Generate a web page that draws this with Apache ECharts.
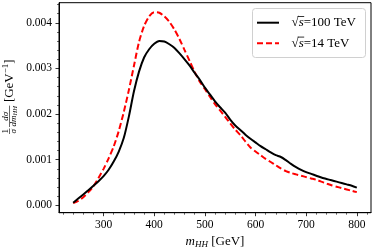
<!DOCTYPE html>
<html><head><meta charset="utf-8">
<script src="https://cdn.jsdelivr.net/npm/echarts@6/dist/echarts.min.js"></script>
<style>html,body{margin:0;padding:0;background:#fff}#c{width:374px;height:249px}</style>
</head><body><div id="c"></div>
<script>
const mHH = [240,250,260,270,280,290,300,310,320,330,340,350,360,370,380,390,400,410,420,430,440,450,460,470,480,490,500,510,520,530,540,550,560,570,580,590,600,610,620,630,640,650,660,670,680,690,700,710,720,730,740,750,760,770,780,790,800];
const s100 = [0.00006,0.00015,0.00024,0.00033,0.00043,0.00053,0.00064,0.00078,0.00096,0.00118,0.00148,0.00195,0.00250,0.00293,0.00324,0.00342,0.00354,0.00360,0.00359,0.00353,0.00345,0.00333,0.00320,0.00306,0.00290,0.00275,0.00258,0.00243,0.00228,0.00215,0.00203,0.00188,0.00175,0.00165,0.00155,0.00146,0.00138,0.00130,0.00123,0.00116,0.00110,0.00106,0.00099,0.00091,0.00084,0.00078,0.00073,0.00069,0.00065,0.00061,0.00058,0.00055,0.00052,0.00049,0.00046,0.00043,0.00039];
const s14 = [0.00005,0.00010,0.00018,0.00029,0.00042,0.00060,0.00080,0.00103,0.00129,0.00163,0.00205,0.00253,0.00306,0.00358,0.00393,0.00414,0.00423,0.00422,0.00414,0.00402,0.00385,0.00364,0.00340,0.00316,0.00292,0.00271,0.00255,0.00238,0.00222,0.00208,0.00194,0.00180,0.00166,0.00154,0.00140,0.00127,0.00118,0.00110,0.00102,0.00095,0.00088,0.00081,0.00075,0.00071,0.00068,0.00065,0.00062,0.00059,0.00056,0.00052,0.00048,0.00044,0.00041,0.00038,0.00035,0.00032,0.00029];
const xTicks = [300,400,500,600,700,800];
const xMinorTicks = [220,240,260,280,320,340,360,380,420,440,460,480,520,540,560,580,620,640,660,680,720,740,760,780,820];
const yTicks = [0,0.001,0.002,0.003,0.004];
const yMinorTicks = [0.0002,0.0004,0.0006,0.0008,0.0012,0.0014,0.0016,0.0018,0.0022,0.0024,0.0026,0.0028,0.0032,0.0034,0.0036,0.0038,0.0042,0.0044];
const seriesNames = ['√s=100 TeV','√s=14 TeV'];
const legendNums = ['=100 TeV','=14 TeV'];

const FF = '"Liberation Serif", "DejaVu Serif", serif';
const ctx = document.createElement('canvas').getContext('2d');
function fontStr(size, italic){ return (italic?'italic ':'') + size + 'px ' + FF; }
function measure(t, size, italic){ ctx.font = fontStr(size, italic); return ctx.measureText(t).width; }
function seq(pieces, x0, y0, align){
  const ws = pieces.map(p => measure(p.t, p.size, p.italic));
  const total = ws.reduce((a,b)=>a+b,0);
  let x = align==='center' ? x0 - total/2 : (align==='right' ? x0 - total : x0);
  const els = [];
  const starts = [];
  pieces.forEach((p,i)=>{
    starts.push(x);
    els.push({type:'text', x:x, y:y0 + (p.dy||0), silent:true,
      style:{text:p.t, font:fontStr(p.size,p.italic), fill:'#000', textAlign:'left', textVerticalAlign:'middle'}});
    x += ws[i];
  });
  return {els, width: total, starts, ws};
}

const graphics = [];
const LX = 252.5, LY = 8.5;
graphics.push({type:'rect', shape:{x:LX, y:LY, width:113, height:49, r:3}, style:{fill:'#fff', stroke:'#d0d0d0', lineWidth:1}, z:10});
const rowsY = [22.7, 43.3];
const rowStyles = [{stroke:'#000', lineWidth:2}, {stroke:'#ff0000', lineWidth:2, lineDash:[6,3]}];
rowsY.forEach((yy, i)=>{
  graphics.push({type:'line', shape:{x1:257, y1:yy, x2:279, y2:yy}, style:rowStyles[i], z:11});
  const r = seq([{t:'√', size:13}, {t:'s', size:13, italic:true}, {t:legendNums[i], size:13}], 291.5, yy, 'left');
  r.els.forEach(e=>{e.z=11; graphics.push(e);});
  const x1 = r.starts[0] + r.ws[0]*0.85, x2 = r.starts[1] + r.ws[1] + 0.5;
  graphics.push({type:'line', shape:{x1:x1, y1:yy-6.2, x2:x2, y2:yy-6.2}, style:{stroke:'#000', lineWidth:0.8}, z:11});
});

seq([{t:'m', size:13, italic:true}, {t:'HH', size:9, italic:true, dy:3}, {t:' [GeV]', size:13}], 215, 241.5, 'center').els.forEach(e=>graphics.push(e));

const yl = [];
const fs = 9;
const w1 = measure('1', fs), ws = measure('σ', fs, true);
const fw1 = Math.max(w1, ws) + 1;
yl.push({type:'text', x:(fw1-w1)/2, y:-4, style:{text:'1', font:fontStr(fs), fill:'#000', textAlign:'left', textVerticalAlign:'middle'}});
yl.push({type:'line', shape:{x1:0, y1:0, x2:fw1, y2:0}, style:{stroke:'#000', lineWidth:0.6}});
yl.push({type:'text', x:(fw1-ws)/2, y:4.2, style:{text:'σ', font:fontStr(fs,true), fill:'#000', textAlign:'left', textVerticalAlign:'middle'}});
const f0 = fw1 + 1.5;
const wn = measure('dσ', fs, true);
const wd1 = measure('dm', fs, true), wd2 = measure('HH', 6.5, true);
const fw2 = wd1 + wd2 + 1;
yl.push({type:'text', x:f0 + (fw2-wn)/2, y:-4, style:{text:'dσ', font:fontStr(fs,true), fill:'#000', textAlign:'left', textVerticalAlign:'middle'}});
yl.push({type:'line', shape:{x1:f0, y1:0, x2:f0+fw2, y2:0}, style:{stroke:'#000', lineWidth:0.6}});
yl.push({type:'text', x:f0+0.5, y:4.2, style:{text:'dm', font:fontStr(fs,true), fill:'#000', textAlign:'left', textVerticalAlign:'middle'}});
yl.push({type:'text', x:f0+0.5+wd1, y:6, style:{text:'HH', font:fontStr(6.5,true), fill:'#000', textAlign:'left', textVerticalAlign:'middle'}});
const g0 = f0 + fw2 + 3.5;
seq([{t:'[GeV', size:13}, {t:'−1', size:9, dy:-4}, {t:']', size:13}], g0, 0, 'left').els.forEach(e=>yl.push(e));
graphics.push({type:'group', x:9.5, y:134, rotation:Math.PI/2, children:yl});

const chart = echarts.init(document.getElementById('c'), null, {renderer:'canvas'});
const axisFont = {fontFamily:'Liberation Serif', fontSize:11.5, color:'#000'};
chart.setOption({
  animation:false,
  backgroundColor:'#fff',
  grid:{left:59, right:3, top:2.7, bottom:36.3, show:true, borderColor:'#000', borderWidth:1, backgroundColor:'transparent'},
  xAxis:[{
    type:'value', min:212, max:828, position:'bottom',
    axisLine:{show:true, onZero:false, lineStyle:{color:'#000', width:1}},
    axisTick:{show:true, inside:false, customValues:xTicks, length:3.5, lineStyle:{color:'#000', width:0.8}},
    axisLabel:{show:true, customValues:xTicks, margin:6, ...axisFont},
    splitLine:{show:false}
  },{
    type:'value', min:212, max:828, position:'bottom', offset:0,
    axisLine:{show:false, onZero:false},
    axisTick:{show:true, inside:false, customValues:xMinorTicks, length:2, lineStyle:{color:'#000', width:0.6}},
    axisLabel:{show:false}, splitLine:{show:false}
  }],
  yAxis:[{
    type:'value', min:-0.00016, max:0.00444, position:'left',
    axisLine:{show:true, onZero:false, lineStyle:{color:'#000', width:1}},
    axisTick:{show:true, inside:false, customValues:yTicks, length:3.5, lineStyle:{color:'#000', width:0.8}},
    axisLabel:{show:true, customValues:yTicks, margin:7, formatter:v=>v.toFixed(3), ...axisFont},
    splitLine:{show:false}
  },{
    type:'value', min:-0.00016, max:0.00444, position:'left', offset:0,
    axisLine:{show:false, onZero:false},
    axisTick:{show:true, inside:false, customValues:yMinorTicks, length:2, lineStyle:{color:'#000', width:0.6}},
    axisLabel:{show:false}, splitLine:{show:false}
  }],
  series:[{
    name:seriesNames[0], type:'line', xAxisIndex:0, yAxisIndex:0, showSymbol:false, smooth:0.25,
    data:mHH.map((x,i)=>[x, s100[i]]), lineStyle:{color:'#000', width:2}, z:3
  },{
    name:seriesNames[1], type:'line', xAxisIndex:0, yAxisIndex:0, showSymbol:false, smooth:0.25,
    data:mHH.map((x,i)=>[x, s14[i]]), lineStyle:{color:'#ff0000', width:2, type:[6,3]}, z:2
  }],
  graphic:graphics
});
</script></body></html>
